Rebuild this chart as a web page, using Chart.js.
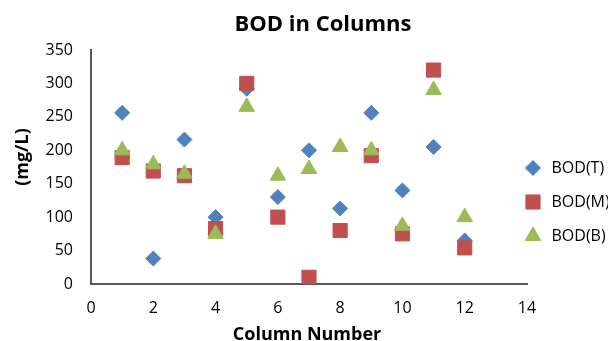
<!DOCTYPE html>
<html>
<head>
<meta charset="utf-8">
<script src="https://cdn.jsdelivr.net/npm/chart.js@4/dist/chart.umd.min.js"></script>
<style>
html,body{margin:0;padding:0;background:#fff;}
canvas{display:block;}
</style>
</head>
<body>
<canvas id="c" width="608" height="341"></canvas>
<script>
const chartTitle = "BOD in Columns";
const xAxisTitle = "Column Number";
const yAxisTitle = "(mg/L)";
const columns = [1, 2, 3, 4, 5, 6, 7, 8, 9, 10, 11, 12];
const bodT = [256, 38, 216, 100, 292, 130, 200, 113, 256, 140, 205, 65];
const bodM = [189, 169, 162, 83, 300, 100, 10, 80, 192, 75, 320, 54];
const bodB = [200, 179, 165, 75, 265, 162, 172, 205, 200, 87, 290, 100];
const seriesNames = ["BOD(T)", "BOD(M)", "BOD(B)"];
const xTickValues = [0, 2, 4, 6, 8, 10, 12, 14];
const yTickValues = [0, 50, 100, 150, 200, 250, 300, 350];

const FONT = "'Open Sans', 'DejaVu Sans', sans-serif";
const toPoints = (vals) => vals.map((v, i) => ({x: columns[i], y: v}));

const extras = {
  id: 'extras',
  afterDraw(chart) {
    const ctx = chart.ctx;
    ctx.save();
    ctx.fillStyle = '#000';
    // Title
    ctx.font = "bold 22px " + FONT;
    ctx.textAlign = 'center';
    ctx.textBaseline = 'alphabetic';
    ctx.fillText(chartTitle, 323, 31);
    // X axis title
    ctx.font = "bold 18px " + FONT;
    ctx.fillText(xAxisTitle, 307, 340);
    // Y axis title
    ctx.save();
    ctx.translate(22.5, 157);
    ctx.rotate(-Math.PI / 2);
    ctx.textBaseline = 'middle';
    ctx.fillText(yAxisTitle, 0, 0);
    ctx.restore();
    // Legend
    const rows = [168, 202, 236];
    chart.data.datasets.forEach((ds, i) => {
      const y = rows[i];
      ctx.fillStyle = ds.backgroundColor;
      ctx.strokeStyle = ds.borderColor;
      ctx.lineWidth = 1;
      Chart.helpers.drawPoint(ctx, {pointStyle: ds.pointStyle, radius: ds.pointRadius, rotation: 0, borderWidth: 1}, 533, y);
      ctx.fillStyle = '#000';
      ctx.font = "16px " + FONT;
      ctx.textAlign = 'left';
      ctx.textBaseline = 'middle';
      ctx.fillText(ds.label, 551.5, y);
    });
    ctx.restore();
  }
};

new Chart(document.getElementById('c'), {
  type: 'scatter',
  data: {
    datasets: [
      {label: seriesNames[0], data: toPoints(bodT), pointStyle: 'rectRot', pointRadius: 7.5,
       backgroundColor: '#4F81BD', borderColor: '#4F81BD', borderWidth: 1, order: 2},
      {label: seriesNames[1], data: toPoints(bodM), pointStyle: 'rect', pointRadius: 10,
       backgroundColor: '#C0504D', borderColor: '#C0504D', borderWidth: 1, order: 1},
      {label: seriesNames[2], data: toPoints(bodB), pointStyle: 'triangle', pointRadius: 9,
       backgroundColor: '#9BBB59', borderColor: '#9BBB59', borderWidth: 1, order: 0}
    ]
  },
  options: {
    responsive: false,
    animation: false,
    events: [],
    layout: {padding: {left: 0, right: 81, top: 50, bottom: 0}},
    plugins: {legend: {display: false}, title: {display: false}, tooltip: {enabled: false}},
    scales: {
      x: {
        type: 'linear', min: 0, max: 14,
        afterBuildTicks: (s) => { s.ticks = xTickValues.map(v => ({value: v})); },
        afterFit: (s) => { s.height = 57; },
        grid: {display: false, drawTicks: false},
        border: {display: true, color: '#595959', width: 2},
        ticks: {color: '#000', font: {family: FONT, size: 16}, padding: 15, maxRotation: 0}
      },
      y: {
        type: 'linear', min: 0, max: 350,
        afterBuildTicks: (s) => { s.ticks = yTickValues.map(v => ({value: v})); },
        afterFit: (s) => { s.width = 91; },
        grid: {display: false, drawTicks: false},
        border: {display: true, color: '#595959', width: 2},
        ticks: {color: '#000', font: {family: FONT, size: 16}, padding: 18}
      }
    }
  },
  plugins: [extras]
});
</script>
</body>
</html>
